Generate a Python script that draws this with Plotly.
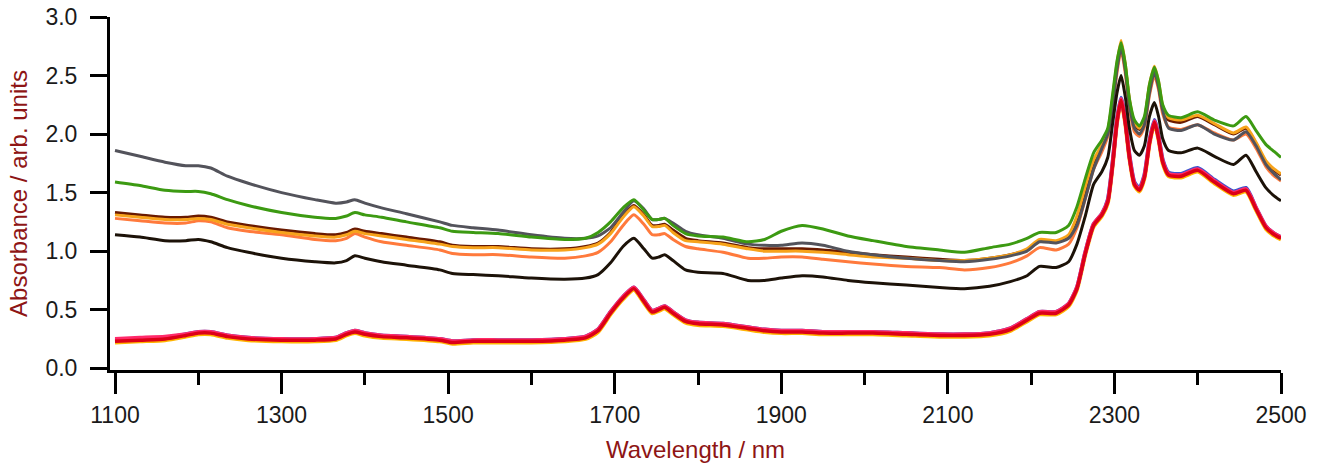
import plotly.graph_objects as go

wavelength = [1100, 1130, 1160, 1185, 1200, 1215, 1235, 1260, 1300, 1340, 1365, 1378, 1388, 1400, 1420, 1450,
              1490, 1505, 1530, 1560, 1600, 1640, 1665, 1680, 1695, 1710, 1723, 1735, 1745, 1753, 1760, 1770,
              1785, 1800, 1830, 1860, 1880, 1900, 1925, 1950, 1980, 2010, 2050, 2090, 2120, 2150, 2175, 2195,
              2210, 2230, 2245, 2255, 2265, 2275, 2285, 2292, 2298, 2303, 2308, 2313, 2318, 2324, 2330, 2336,
              2342, 2348, 2353, 2358, 2365, 2380, 2400, 2420, 2443, 2458, 2470, 2482, 2492, 2500]

gray = [1.86, 1.81, 1.76, 1.73, 1.73, 1.71, 1.64, 1.58, 1.50, 1.44, 1.41, 1.42, 1.44, 1.41, 1.37, 1.32,
        1.25, 1.22, 1.20, 1.18, 1.14, 1.11, 1.11, 1.13, 1.20, 1.33, 1.43, 1.36, 1.27, 1.27, 1.28, 1.24,
        1.17, 1.14, 1.11, 1.06, 1.05, 1.05, 1.07, 1.05, 1.00, 0.97, 0.94, 0.92, 0.91, 0.93, 0.96, 1.00,
        1.08, 1.07, 1.11, 1.22, 1.45, 1.70, 1.88, 2.00, 2.25, 2.55, 2.74, 2.55, 2.25, 2.05, 2.00, 2.08,
        2.35, 2.53, 2.40, 2.20, 2.05, 2.03, 2.08, 2.00, 1.95, 2.02, 1.90, 1.74, 1.66, 1.61]

green = [1.59, 1.56, 1.52, 1.51, 1.51, 1.49, 1.44, 1.39, 1.33, 1.29, 1.28, 1.30, 1.33, 1.31, 1.29, 1.25,
         1.20, 1.17, 1.16, 1.15, 1.12, 1.10, 1.11, 1.16, 1.25, 1.37, 1.44, 1.35, 1.27, 1.27, 1.28, 1.22,
         1.15, 1.13, 1.12, 1.08, 1.10, 1.17, 1.22, 1.19, 1.13, 1.09, 1.04, 1.01, 0.99, 1.03, 1.06, 1.11,
         1.16, 1.16, 1.22, 1.38, 1.62, 1.84, 1.95, 2.05, 2.35, 2.62, 2.78, 2.60, 2.30, 2.12, 2.07, 2.15,
         2.42, 2.57, 2.45, 2.25, 2.16, 2.14, 2.19, 2.12, 2.07, 2.15, 2.03, 1.91, 1.85, 1.80]

brown = [1.33, 1.31, 1.29, 1.29, 1.30, 1.29, 1.25, 1.22, 1.18, 1.15, 1.14, 1.16, 1.19, 1.17, 1.15, 1.12,
         1.08, 1.05, 1.04, 1.04, 1.02, 1.02, 1.04, 1.07, 1.16, 1.30, 1.39, 1.31, 1.22, 1.22, 1.23, 1.18,
         1.11, 1.09, 1.07, 1.03, 1.02, 1.02, 1.02, 1.01, 0.99, 0.97, 0.95, 0.93, 0.92, 0.94, 0.97, 1.01,
         1.09, 1.08, 1.13, 1.28, 1.52, 1.76, 1.90, 2.02, 2.30, 2.58, 2.77, 2.58, 2.28, 2.08, 2.04, 2.12,
         2.40, 2.56, 2.43, 2.22, 2.12, 2.10, 2.15, 2.08, 2.00, 2.05, 1.92, 1.76, 1.69, 1.65]

orange = [1.31, 1.29, 1.27, 1.27, 1.28, 1.27, 1.23, 1.20, 1.16, 1.13, 1.12, 1.14, 1.17, 1.15, 1.13, 1.10,
          1.06, 1.04, 1.03, 1.03, 1.01, 1.01, 1.03, 1.06, 1.15, 1.29, 1.38, 1.30, 1.21, 1.21, 1.22, 1.16,
          1.09, 1.08, 1.06, 1.02, 1.00, 1.00, 1.00, 0.99, 0.97, 0.95, 0.94, 0.92, 0.92, 0.94, 0.97, 1.02,
          1.10, 1.09, 1.14, 1.30, 1.55, 1.78, 1.91, 2.03, 2.32, 2.60, 2.80, 2.60, 2.30, 2.10, 2.05, 2.13,
          2.42, 2.58, 2.45, 2.24, 2.14, 2.12, 2.16, 2.09, 2.01, 2.06, 1.93, 1.77, 1.70, 1.66]

salmon = [1.28, 1.26, 1.24, 1.24, 1.26, 1.25, 1.20, 1.17, 1.14, 1.10, 1.09, 1.11, 1.15, 1.12, 1.08, 1.05,
          1.01, 0.98, 0.97, 0.97, 0.95, 0.94, 0.96, 0.99, 1.08, 1.22, 1.31, 1.23, 1.14, 1.14, 1.15, 1.10,
          1.04, 1.02, 0.99, 0.94, 0.94, 0.95, 0.95, 0.93, 0.91, 0.89, 0.87, 0.86, 0.84, 0.86, 0.90, 0.96,
          1.03, 1.01, 1.06, 1.20, 1.45, 1.70, 1.85, 1.98, 2.25, 2.52, 2.72, 2.52, 2.22, 2.02, 1.98, 2.06,
          2.33, 2.50, 2.38, 2.17, 2.06, 2.04, 2.08, 2.01, 1.95, 2.00, 1.88, 1.72, 1.64, 1.60]

black = [1.14, 1.12, 1.09, 1.09, 1.10, 1.08, 1.03, 0.99, 0.94, 0.91, 0.90, 0.92, 0.96, 0.94, 0.91, 0.88,
         0.84, 0.81, 0.80, 0.79, 0.77, 0.76, 0.77, 0.80, 0.90, 1.04, 1.11, 1.02, 0.94, 0.95, 0.97, 0.92,
         0.84, 0.82, 0.81, 0.75, 0.75, 0.77, 0.79, 0.78, 0.75, 0.73, 0.71, 0.69, 0.68, 0.70, 0.74, 0.79,
         0.87, 0.86, 0.91, 1.06, 1.30, 1.57, 1.68, 1.80, 2.10, 2.35, 2.50, 2.32, 2.05, 1.86, 1.82, 1.90,
         2.15, 2.27, 2.15, 1.96, 1.86, 1.84, 1.88, 1.81, 1.74, 1.82, 1.68, 1.54, 1.47, 1.43]

yellow = [0.22, 0.23, 0.24, 0.27, 0.29, 0.29, 0.26, 0.24, 0.23, 0.23, 0.24, 0.28, 0.30, 0.28, 0.26, 0.25,
          0.23, 0.21, 0.22, 0.22, 0.22, 0.23, 0.25, 0.31, 0.46, 0.59, 0.67, 0.56, 0.47, 0.49, 0.51, 0.46,
          0.39, 0.37, 0.36, 0.33, 0.31, 0.30, 0.30, 0.29, 0.29, 0.29, 0.28, 0.27, 0.27, 0.28, 0.32, 0.40,
          0.46, 0.46, 0.53, 0.67, 0.97, 1.21, 1.30, 1.41, 1.74, 2.09, 2.28, 2.09, 1.79, 1.56, 1.51, 1.62,
          1.91, 2.09, 1.95, 1.75, 1.64, 1.63, 1.68, 1.58, 1.48, 1.51, 1.35, 1.19, 1.13, 1.10]

blue = [0.24, 0.25, 0.26, 0.29, 0.31, 0.31, 0.28, 0.26, 0.25, 0.25, 0.26, 0.30, 0.32, 0.30, 0.28, 0.27,
        0.25, 0.23, 0.24, 0.24, 0.24, 0.25, 0.27, 0.33, 0.48, 0.61, 0.69, 0.58, 0.49, 0.51, 0.53, 0.48,
        0.41, 0.39, 0.38, 0.35, 0.33, 0.32, 0.32, 0.31, 0.31, 0.31, 0.30, 0.29, 0.29, 0.30, 0.34, 0.42,
        0.48, 0.48, 0.55, 0.69, 0.99, 1.23, 1.32, 1.44, 1.77, 2.12, 2.31, 2.12, 1.82, 1.59, 1.54, 1.65,
        1.94, 2.12, 1.98, 1.78, 1.67, 1.66, 1.71, 1.61, 1.51, 1.54, 1.37, 1.21, 1.15, 1.12]

pink = [0.25, 0.26, 0.27, 0.29, 0.31, 0.31, 0.28, 0.26, 0.25, 0.25, 0.26, 0.30, 0.32, 0.30, 0.28, 0.27,
        0.25, 0.23, 0.24, 0.24, 0.24, 0.25, 0.27, 0.33, 0.48, 0.61, 0.69, 0.58, 0.49, 0.51, 0.53, 0.48,
        0.41, 0.39, 0.38, 0.35, 0.33, 0.32, 0.32, 0.31, 0.31, 0.31, 0.30, 0.29, 0.29, 0.30, 0.34, 0.42,
        0.48, 0.48, 0.55, 0.69, 0.99, 1.23, 1.32, 1.43, 1.76, 2.11, 2.30, 2.11, 1.81, 1.58, 1.53, 1.64,
        1.93, 2.11, 1.97, 1.77, 1.66, 1.65, 1.70, 1.60, 1.50, 1.53, 1.37, 1.21, 1.15, 1.12]

red = [0.23, 0.24, 0.25, 0.28, 0.30, 0.30, 0.27, 0.25, 0.24, 0.24, 0.25, 0.29, 0.31, 0.29, 0.27, 0.26,
       0.24, 0.22, 0.23, 0.23, 0.23, 0.24, 0.26, 0.32, 0.47, 0.60, 0.68, 0.57, 0.48, 0.50, 0.52, 0.47,
       0.40, 0.38, 0.37, 0.34, 0.32, 0.31, 0.31, 0.30, 0.30, 0.30, 0.29, 0.28, 0.28, 0.29, 0.33, 0.41,
       0.47, 0.47, 0.54, 0.68, 0.98, 1.22, 1.31, 1.42, 1.75, 2.10, 2.29, 2.10, 1.80, 1.57, 1.52, 1.63,
       1.92, 2.10, 1.96, 1.76, 1.65, 1.64, 1.69, 1.59, 1.49, 1.52, 1.36, 1.20, 1.14, 1.11]

x_ticks = [1100, 1300, 1500, 1700, 1900, 2100, 2300, 2500]
x_minor_ticks = [1200, 1400, 1600, 1800, 2000, 2200, 2400]
y_ticks = [0.0, 0.5, 1.0, 1.5, 2.0, 2.5, 3.0]

series = [
    ("yellow", yellow, "#ffb400", 4),
    ("blue", blue, "#3a55d0", 4),
    ("pink", pink, "#ff2a6a", 4),
    ("red", red, "#dc0018", 3.5),
    ("salmon", salmon, "#ff7a3c", 3),
    ("brown", brown, "#6a1a00", 3),
    ("orange", orange, "#f7a31b", 3),
    ("gray", gray, "#53535b", 3),
    ("black", black, "#1c1208", 3),
    ("green", green, "#3c9a12", 3),
]

fig = go.Figure()
for name, vals, color, w in series:
    fig.add_trace(go.Scatter(x=wavelength, y=vals, mode="lines", name=name,
                             line=dict(color=color, width=w, shape="spline", smoothing=0.6),
                             showlegend=False, hoverinfo="skip"))

axis_font = dict(family="Liberation Sans, Arial, sans-serif", size=23, color="#1a1a1a")
title_font = dict(family="Liberation Sans, Arial, sans-serif", size=24, color="#8e1515")

fig.update_layout(
    width=1324, height=467,
    margin=dict(l=110, r=43, t=17, b=97),
    paper_bgcolor="white", plot_bgcolor="white",
)
fig.update_xaxes(
    range=[1094, 2500], tickvals=x_ticks, ticktext=[str(v) for v in x_ticks],
    ticks="outside", ticklen=21, tickwidth=3, tickcolor="black",
    showline=True, linewidth=3, linecolor="black", showgrid=False, zeroline=False,
    tickfont=axis_font, ticklabelstandoff=1, automargin=False,
    minor=dict(tickvals=x_minor_ticks, ticks="outside",
               ticklen=12, tickwidth=3, tickcolor="black", showgrid=False),
    title=dict(text="Wavelength / nm", font=title_font, standoff=15),
)
fig.update_yaxes(
    range=[-0.015, 3.0], tickvals=y_ticks, ticktext=[f"{v:.1f}" for v in y_ticks],
    ticks="outside", ticklen=17, tickwidth=3, tickcolor="black",
    showline=True, linewidth=3, linecolor="black", showgrid=False, zeroline=False,
    tickfont=axis_font, ticklabelstandoff=8, automargin=False,
    title=dict(text="Absorbance / arb. units", font=title_font, standoff=12),
)

fig.write_html("out.html", config={"displayModeBar": False},
               post_script="document.body.style.margin='0';")
